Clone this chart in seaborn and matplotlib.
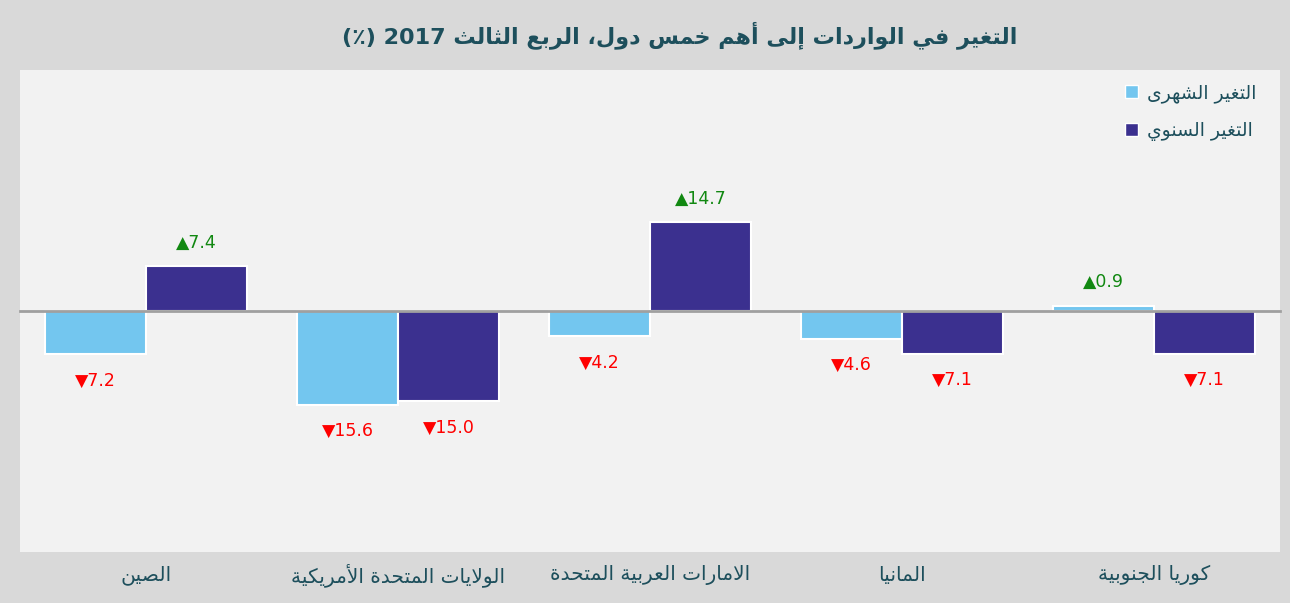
import pandas as pd
import seaborn as sns
import matplotlib.pyplot as plt
from matplotlib.patches import Patch
from matplotlib.transforms import blended_transform_factory

countries = ['الصين', 'الولايات المتحدة الأمريكية', 'الامارات العربية المتحدة', 'المانيا', 'كوريا الجنوبية']
monthly = [-7.2, -15.6, -4.2, -4.6, 0.9]
yearly = [7.4, -15.0, 14.7, -7.1, -7.1]
series_names = ['التغير الشهرى', 'التغير السنوي']
title = 'التغير في الواردات إلى أهم خمس دول، الربع الثالث 2017 (٪)'

colors = ['#73c6ef', '#3b308f']
text_color = '#1d4f5c'

# matplotlib has no arabic shaping / bidi, so do it by hand with presentation forms
FORMS = {
    'ا': (0xFE8D, 2), 'أ': (0xFE83, 2), 'إ': (0xFE87, 2), 'آ': (0xFE81, 2),
    'ب': (0xFE8F, 4), 'ة': (0xFE93, 2), 'ت': (0xFE95, 4), 'ث': (0xFE99, 4),
    'ج': (0xFE9D, 4), 'ح': (0xFEA1, 4), 'خ': (0xFEA5, 4), 'د': (0xFEA9, 2),
    'ذ': (0xFEAB, 2), 'ر': (0xFEAD, 2), 'ز': (0xFEAF, 2), 'س': (0xFEB1, 4),
    'ش': (0xFEB5, 4), 'ص': (0xFEB9, 4), 'ض': (0xFEBD, 4), 'ط': (0xFEC1, 4),
    'ظ': (0xFEC5, 4), 'ع': (0xFEC9, 4), 'غ': (0xFECD, 4), 'ف': (0xFED1, 4),
    'ق': (0xFED5, 4), 'ك': (0xFED9, 4), 'ل': (0xFEDD, 4), 'م': (0xFEE1, 4),
    'ن': (0xFEE5, 4), 'ه': (0xFEE9, 4), 'و': (0xFEED, 2), 'ى': (0xFEEF, 2),
    'ي': (0xFEF1, 4),
}
LAM_ALEF = {'ا': 0xFEFB, 'أ': 0xFEF7, 'إ': 0xFEF9, 'آ': 0xFEF5}


def shape_word(w):
    out = []
    i = 0
    while i < len(w):
        c = w[i]
        if c not in FORMS:
            out.append(c)
            i += 1
            continue
        prev = w[i - 1] if i > 0 else ''
        joins_prev = prev in FORMS and FORMS[prev][1] == 4
        if c == 'ل' and i + 1 < len(w) and w[i + 1] in LAM_ALEF:
            out.append(chr(LAM_ALEF[w[i + 1]] + (1 if joins_prev else 0)))
            i += 2
            continue
        base, k = FORMS[c]
        nxt = w[i + 1] if i + 1 < len(w) else ''
        joins_next = k == 4 and nxt in FORMS
        if joins_prev and joins_next:
            code = base + 3
        elif joins_prev:
            code = base + 1
        elif joins_next:
            code = base + 2
        else:
            code = base
        out.append(chr(code))
        i += 1
    return ''.join(out)


def ar(text):
    words = []
    for w in text.split(' '):
        if any(ch in FORMS for ch in w):
            w = shape_word(w)[::-1]
        words.append(w)
    return ' '.join(words[::-1])


df = pd.DataFrame({
    'country': countries * 2,
    'series': [series_names[0]] * 5 + [series_names[1]] * 5,
    'value': monthly + yearly,
})

sns.set_style('white')
plt.rcParams['font.family'] = ['DejaVu Sans']

fig = plt.figure(figsize=(12.9, 6.03), dpi=100, facecolor='#d9d9d9')
ax = fig.add_axes([20 / 1290, 1 - 552 / 603, 1260 / 1290, 482 / 603])
ax.set_facecolor('#f2f2f2')

sns.barplot(data=df, x='country', y='value', hue='series', hue_order=series_names,
            palette=colors, saturation=1, edgecolor='white', linewidth=1.5, width=0.8,
            legend=False, ax=ax)

ax.set_xlim(-0.5, 4.5)
ax.set_ylim(-40, 40)
ax.set_xlabel('')
ax.set_ylabel('')
ax.set_yticks([])
for s in ['top', 'left', 'right']:
    ax.spines[s].set_visible(False)
ax.spines['bottom'].set_position(('data', 0))
ax.spines['bottom'].set_color('#a0a0a0')
ax.spines['bottom'].set_linewidth(2)
ax.set_xticks([x + 0.5 for x in range(-1, 5)])
ax.set_xticklabels([])
ax.tick_params(axis='x', direction='out', length=6, width=1.5, color='#a0a0a0')

trans = blended_transform_factory(ax.transData, ax.transAxes)
for i, c in enumerate(countries):
    ax.text(i, -0.048, ar(c), transform=trans, ha='center', va='center',
            fontsize=14.5, color=text_color, clip_on=False)

for cont, vals in zip(ax.containers, [monthly, yearly]):
    for bar, v in zip(cont, vals):
        x = bar.get_x() + bar.get_width() / 2
        if v >= 0:
            lab, col, off = '▲' + format(v, '.1f'), '#118811', 17
        else:
            lab, col, off = '▼' + format(abs(v), '.1f'), '#ff0000', -19
        ax.annotate(lab, (x, v), xytext=(0, off), textcoords='offset points',
                    ha='center', va='center', fontsize=12.5, color=col)

handles = [Patch(facecolor=colors[i], edgecolor='white', label=ar(series_names[i])) for i in range(2)]
leg = ax.legend(handles=handles, loc='upper right', bbox_to_anchor=(0.995, 1.008),
                frameon=False, fontsize=13.5, handlelength=0.7, handleheight=0.7,
                handletextpad=0.5, labelspacing=1.0)
for t in leg.get_texts():
    t.set_color(text_color)

fig.text(0.527, 0.942, ar(title), ha='center', va='center', fontsize=16,
         fontweight='bold', color=text_color)

fig.savefig('out.png', dpi=100, facecolor=fig.get_facecolor())
